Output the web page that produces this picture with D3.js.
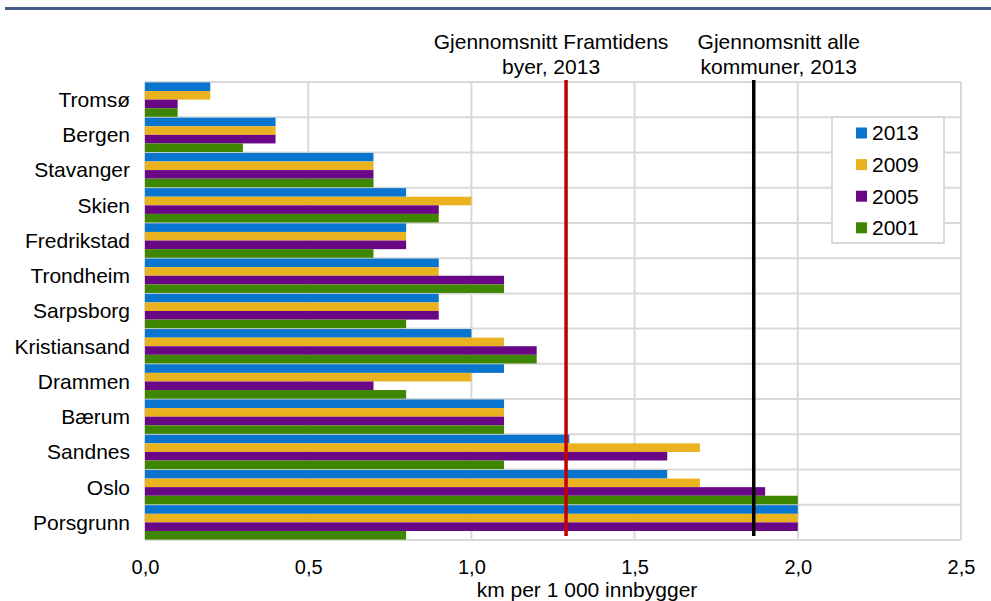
<!DOCTYPE html>
<html>
<head>
<meta charset="utf-8">
<script src="https://cdn.jsdelivr.net/npm/d3@7"></script>
<style>
  html, body { margin: 0; padding: 0; background: #fff; }
  svg { display: block; font-family: "Liberation Sans", Arial, sans-serif; }
</style>
</head>
<body>
<svg id="chart" width="991" height="601"></svg>
<script>
// Cities, top to bottom
const cities = ["Tromsø", "Bergen", "Stavanger", "Skien", "Fredrikstad", "Trondheim",
  "Sarpsborg", "Kristiansand", "Drammen", "Bærum", "Sandnes", "Oslo", "Porsgrunn"];

// Series, one value per city (km per 1 000 innbygger)
const years = ["2013", "2009", "2005", "2001"];
const v2013 = [0.2, 0.4, 0.7, 0.8, 0.8, 0.9, 0.9, 1.0, 1.1, 1.1, 1.3, 1.6, 2.0];
const v2009 = [0.2, 0.4, 0.7, 1.0, 0.8, 0.9, 0.9, 1.1, 1.0, 1.1, 1.7, 1.7, 2.0];
const v2005 = [0.1, 0.4, 0.7, 0.9, 0.8, 1.1, 0.9, 1.2, 0.7, 1.1, 1.6, 1.9, 2.0];
const v2001 = [0.1, 0.3, 0.7, 0.9, 0.7, 1.1, 0.8, 1.2, 0.8, 1.1, 1.1, 2.0, 0.8];
const seriesValues = [v2013, v2009, v2005, v2001];
const colors = ["#0a75cf", "#ebb21f", "#6a0786", "#3f8600"];

// Reference averages
const avgFramtidens = 1.29;
const avgAlle = 1.865;
const refLabels = [
  { value: avgFramtidens, lines: ["Gjennomsnitt Framtidens", "byer, 2013"], color: "#c00000", dx: -15 },
  { value: avgAlle, lines: ["Gjennomsnitt alle", "kommuner, 2013"], color: "#000000", dx: 25 }
];

const xTicks = [0, 0.5, 1.0, 1.5, 2.0, 2.5];
const axisTitle = "km per 1 000 innbygger";

const svg = d3.select("#chart");
const plot = { left: 145, right: 961, top: 82, bottom: 540 };
const fontSize = 21;

// header rule
svg.append("rect").attr("x", 5).attr("y", 7).attr("width", 986).attr("height", 3)
  .attr("fill", "#465a86");

const x = d3.scaleLinear().domain([0, 2.5]).range([plot.left, plot.right]);
const y = d3.scaleBand().domain(cities).range([plot.top, plot.bottom]).padding(0);
const ySub = d3.scaleBand().domain(years).range([0, y.bandwidth()])
  .paddingInner(0).paddingOuter(0.05);

const grid = svg.append("g");
// horizontal gridlines at category boundaries
const bounds = cities.map(c => y(c)).concat([plot.bottom]);
grid.selectAll("line.h").data(bounds).join("line")
  .attr("x1", plot.left).attr("x2", plot.right)
  .attr("y1", d => d).attr("y2", d => d)
  .attr("stroke", "#d9d9d9").attr("stroke-width", 2);
// vertical gridlines
grid.selectAll("line.v").data(xTicks).join("line")
  .attr("x1", d => x(d)).attr("x2", d => x(d))
  .attr("y1", plot.top).attr("y2", plot.bottom)
  .attr("stroke", "#d9d9d9").attr("stroke-width", 2);

// bars
const barData = [];
cities.forEach((c, i) => {
  years.forEach((yr, j) => {
    barData.push({ city: c, year: yr, value: seriesValues[j][i], color: colors[j] });
  });
});
svg.append("g").selectAll("rect").data(barData).join("rect")
  .attr("x", x(0))
  .attr("y", d => y(d.city) + ySub(d.year))
  .attr("width", d => x(d.value) - x(0))
  .attr("height", ySub.bandwidth())
  .attr("fill", d => d.color);

// reference lines and their labels
refLabels.forEach(r => {
  svg.append("line")
    .attr("x1", x(r.value)).attr("x2", x(r.value))
    .attr("y1", plot.top - 2).attr("y2", plot.bottom - 4)
    .attr("stroke", r.color).attr("stroke-width", 3.5);
  const t = svg.append("text")
    .attr("text-anchor", "middle")
    .attr("font-size", fontSize)
    .attr("fill", "#000");
  r.lines.forEach((ln, k) => {
    t.append("tspan").attr("x", x(r.value) + r.dx).attr("y", 49 + k * 25).text(ln);
  });
});

// category labels
svg.append("g").selectAll("text").data(cities).join("text")
  .attr("x", 130)
  .attr("y", d => y(d) + y.bandwidth() / 2)
  .attr("dy", "0.35em")
  .attr("text-anchor", "end")
  .attr("font-size", fontSize)
  .attr("fill", "#000")
  .text(d => d);

// x axis
const xAxis = d3.axisBottom(x).tickValues(xTicks)
  .tickFormat(d => d3.format(".1f")(d).replace(".", ","))
  .tickSize(0).tickPadding(0);
const ax = svg.append("g").attr("transform", `translate(0, ${plot.bottom + 20})`).call(xAxis);
ax.select(".domain").remove();
ax.selectAll("text").attr("font-size", fontSize - 1).attr("fill", "#000")
  .attr("font-family", "'Liberation Sans', Arial, sans-serif");

svg.append("text")
  .attr("x", (plot.left + plot.right) / 2 + 34)
  .attr("y", 597)
  .attr("text-anchor", "middle")
  .attr("font-size", fontSize)
  .attr("fill", "#000")
  .text(axisTitle);

// legend
const legend = svg.append("g").attr("transform", "translate(832, 117)");
legend.append("rect").attr("width", 112).attr("height", 126)
  .attr("fill", "#fff").attr("stroke", "#d9d9d9").attr("stroke-width", 2);
years.forEach((yr, j) => {
  const cy = 16 + j * 31.6;
  legend.append("rect").attr("x", 24).attr("y", cy - 5.5).attr("width", 11).attr("height", 11)
    .attr("fill", colors[j]);
  legend.append("text").attr("x", 40).attr("y", cy).attr("dy", "0.35em")
    .attr("font-size", fontSize).attr("fill", "#000").text(yr);
});
</script>
</body>
</html>
